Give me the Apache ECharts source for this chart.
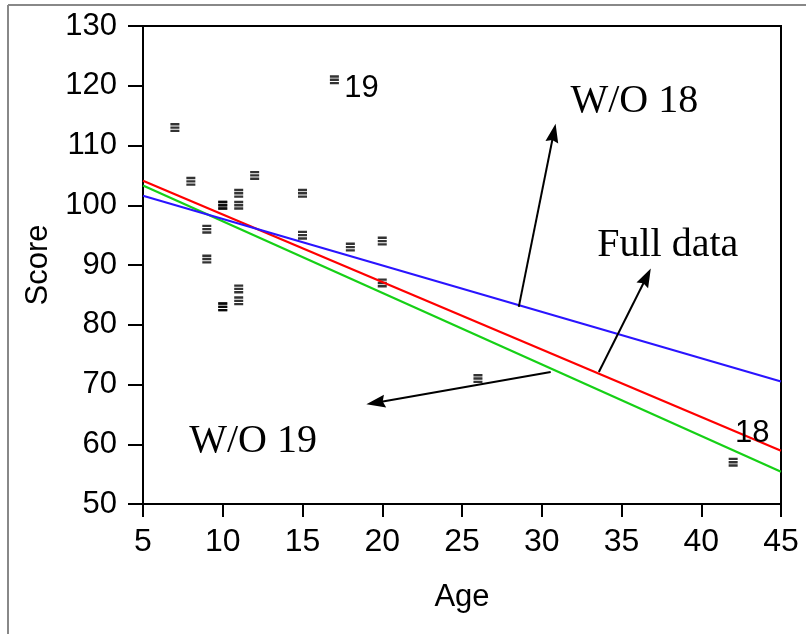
<!DOCTYPE html>
<html><head><meta charset="utf-8">
<script src="https://cdn.jsdelivr.net/npm/echarts@6/dist/echarts.min.js"></script>
<style>html,body{margin:0;padding:0;background:#fff}#c{width:806px;height:634px}</style>
</head><body><div id="c"></div>
<script>
// Scatter data (Age, Score)
const ages   = [15, 26, 10, 9, 15, 20, 18, 11, 8, 20, 7, 9, 10, 11, 11, 10, 12, 42, 17, 11, 10];
const scores = [95, 71, 83, 91, 102, 87, 93, 100, 104, 94, 113, 96, 83, 84, 102, 100, 105, 57, 121, 86, 100];
// Fitted lines, read at the ends of the x range
const fitAges = [5, 45];
const fullFit = [104.1, 58.9];
const wo18Fit = [101.6, 70.5];
const wo19Fit = [103.3, 55.4];
// Axis ranges
const xMin = 5, xMax = 45, xStep = 5;
const yMin = 50, yMax = 130, yStep = 10;
// Annotations (data coordinates)
const noteTexts = ['W/O 18', 'Full data', 'W/O 19'];
const noteX = [35.8, 37.9, 11.9];
const noteY = [117.3, 93.3, 60.5];
const pointTags = ['19', '18'];
const tagX = [18.7, 43.2];
const tagY = [119.6, 61.8];
// Arrows: start and tip
const arrowFrom = [[28.56, 83.0], [33.58, 72.1], [30.56, 72.1]];
const arrowTo   = [[30.75, 112.1], [36.57, 88.0], [19.59, 66.95]];

const sans = '"Liberation Sans", Arial, sans-serif';
const serif = '"Liberation Serif", "Times New Roman", serif';

const pts = ages.map((a, i) => [a, scores[i]]);
const mk = ys => fitAges.map((a, i) => [a, ys[i]]);

const markerPath = 'path://M0,0H9V2.4H0Z M0,3.3H9V5.7H0Z M0,6.6H9V9H0Z';
const headPath = 'path://M5,0L10,16L5,14L0,16Z';

const chart = echarts.init(document.getElementById('c'), null, {renderer: 'canvas'});
chart.setOption({
  animation: false,
  backgroundColor: '#fff',
  grid: {left: 143, right: 25, top: 26, bottom: 130, show: true, borderColor: '#000', borderWidth: 2, backgroundColor: 'transparent'},
  xAxis: {
    type: 'value', min: xMin, max: xMax, interval: xStep,
    name: 'Age', nameLocation: 'middle', nameGap: 78,
    nameTextStyle: {fontFamily: sans, fontSize: 31, color: '#000'},
    axisLine: {show: true, onZero: false, lineStyle: {color: '#000', width: 2}},
    axisTick: {show: true, length: 13, lineStyle: {color: '#000', width: 2}},
    axisLabel: {fontFamily: sans, fontSize: 32, color: '#000', margin: 22},
    splitLine: {show: false}
  },
  yAxis: {
    type: 'value', min: yMin, max: yMax, interval: yStep,
    name: 'Score', nameLocation: 'middle', nameGap: 81,
    nameTextStyle: {fontFamily: sans, fontSize: 31, color: '#000'},
    axisLine: {show: true, onZero: false, lineStyle: {color: '#000', width: 2}},
    axisTick: {show: true, length: 15, lineStyle: {color: '#000', width: 2}},
    axisLabel: {fontFamily: sans, fontSize: 31, color: '#000', margin: 26},
    splitLine: {show: false}
  },
  graphic: [
    {type: 'line', shape: {x1: 8, y1: 5, x2: 806, y2: 5}, style: {stroke: '#888', lineWidth: 2}},
    {type: 'line', shape: {x1: 8, y1: 5, x2: 8, y2: 634}, style: {stroke: '#888', lineWidth: 2}}
  ],
  series: [
    {type: 'line', data: mk(wo19Fit), showSymbol: false, symbol: 'none', silent: true,
     lineStyle: {color: '#16d016', width: 2.2}},
    {type: 'line', data: mk(fullFit), showSymbol: false, symbol: 'none', silent: true,
     lineStyle: {color: '#ff0000', width: 2.2}},
    {type: 'line', data: mk(wo18Fit), showSymbol: false, symbol: 'none', silent: true,
     lineStyle: {color: '#2a14ff', width: 2.2}},
    {type: 'scatter', data: pts, symbol: markerPath, symbolSize: [9, 9], silent: true,
     itemStyle: {color: '#000'}},
    {type: 'scatter', data: [], silent: true,
     markLine: {
       silent: true, symbol: ['none', headPath], symbolSize: [13, 19],
       lineStyle: {color: '#000', width: 2, type: 'solid'},
       label: {show: false}, emphasis: {disabled: true},
       data: arrowFrom.map((f, i) => [{coord: f}, {coord: arrowTo[i]}])
     },
     markPoint: {
       silent: true, symbol: 'rect', symbolSize: 0,
       data: noteTexts.map((t, i) => ({coord: [noteX[i], noteY[i]], value: t,
              label: {show: true, position: 'inside', formatter: t, fontFamily: serif, fontSize: 40, color: '#000'}}))
         .concat(pointTags.map((t, i) => ({coord: [tagX[i], tagY[i]], value: t,
              label: {show: true, position: 'inside', formatter: t, fontFamily: sans, fontSize: 31, color: '#000'}})))
     }
    }
  ]
});
</script></body></html>
